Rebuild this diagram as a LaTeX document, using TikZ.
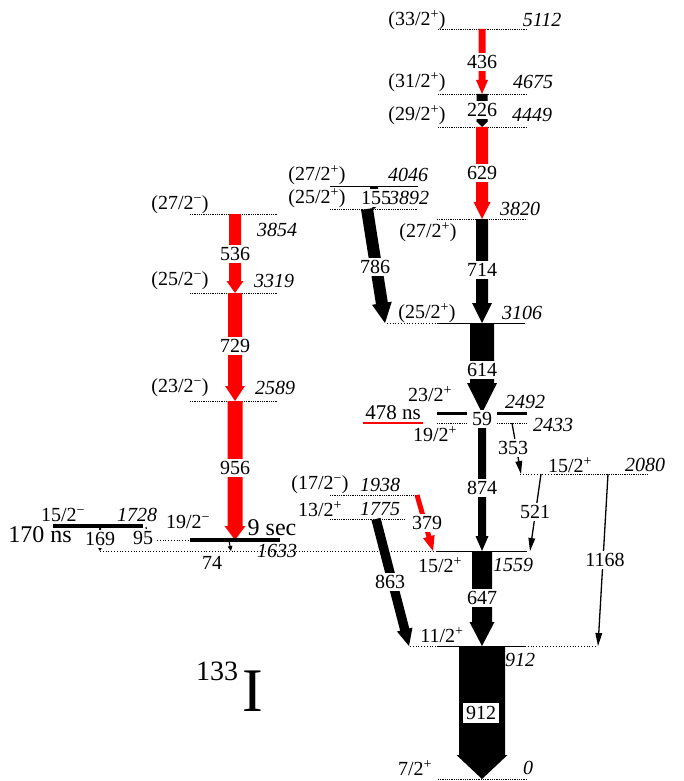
\documentclass[tikz,border=0pt]{standalone}
\usepackage{fontspec}
\setmainfont{Liberation Serif}
\usetikzlibrary{calc}

\definecolor{gred}{RGB}{255,0,0}

\tikzset{
  lvl/.style={line width=0.8pt, densely dotted},
  lvlsolid/.style={line width=0.8pt},
  lvlext/.style={line width=0.8pt, dotted},
  lvlbold/.style={line width=3.5pt},
  enlab/.style={font=\fontsize{20}{22}\selectfont\itshape},
  glab/.style={fill=white, inner sep=2pt},
  biglab/.style={font=\fontsize{24}{26}\selectfont},
}

% gamma arrow: [colour] {from}{to}{half width}{half head width}{head length}
\newcommand\gam[6][black]{%
  \path (#3) coordinate (gtip) ($(#3)!#6!(#2)$) coordinate (gbase);
  \fill[#1] ($(#2)!#4!90:(#3)$) -- ($(gbase)!#4!-90:(#2)$) -- ($(gbase)!#5!-90:(#2)$)
    -- (gtip) -- ($(gbase)!#5!90:(#2)$) -- ($(gbase)!#4!90:(#2)$)
    -- ($(#2)!#4!-90:(#3)$) -- cycle;
}
\newcommand\jpos[1]{#1\textsuperscript{+}}
\newcommand\jneg[1]{#1\textsuperscript{−}}

\begin{document}
\begin{tikzpicture}[x=1pt, y=-1pt, every node/.style={inner sep=0pt, font=\fontsize{20}{22}\selectfont}]
\useasboundingbox (0,0) rectangle (683,781);

% levels
\draw[lvl] (438,29) -- (527,29);
\draw[lvl] (438,94) -- (527,94);
\draw[lvl] (438,127) -- (527,127);
\draw[lvl] (437,219) -- (527,219);
\draw[lvlsolid] (330,186) -- (418,186);
\draw[lvl] (330,209) -- (418,209);
\draw[lvlext] (387,323) -- (437,323);
\draw[lvlsolid] (437,323) -- (525,323);
\draw[lvl] (437,423) -- (467,423) (497,423) -- (527,423);
\draw[gred, line width=2pt] (363,423) -- (423,423);
\draw[lvlext] (520,474) -- (557,474);
\draw[lvl] (557,474) -- (648,474);
\draw[lvl] (330,495) -- (417,495);
\draw[lvl] (330,519) -- (405,519);
\draw[lvlext] (100,551) -- (437,551);
\draw[lvlsolid] (437,551) -- (527,551);
\draw[lvlext] (410,646) -- (437,646) (525,646) -- (597,646);
\draw[lvlsolid] (437,646) -- (525,646);
\draw[lvl] (438,779) -- (527,779);
\draw[lvl] (190,214) -- (278,214);
\draw[lvl] (190,293) -- (278,293);
\draw[lvl] (190,401) -- (278,401);
\draw[lvlext] (157,540) -- (188,540);

% transition end points
\coordinate (a5112) at (482,29);
\coordinate (a4675) at (482,94);
\coordinate (a4449) at (482,127);
\coordinate (a3820) at (482,219);
\coordinate (a3106) at (482,323);
\coordinate (a2492) at (482,413);
\coordinate (a2433) at (482,423);
\coordinate (a1559) at (482,551);
\coordinate (a912)  at (482,646);
\coordinate (a0)    at (482,779);
\coordinate (b4046) at (374,186);
\coordinate (b3892) at (374,209);
\coordinate (c3892) at (367,209);
\coordinate (c3106) at (385,323);
\coordinate (d2433) at (512,423);
\coordinate (d2080) at (521,474);
\coordinate (e2080) at (541,474);
\coordinate (e1559) at (530,551);
\coordinate (f2080) at (608,474);
\coordinate (f912)  at (598,646);
\coordinate (h1938) at (417,495);
\coordinate (h1559) at (433,551);
\coordinate (k1775) at (376,519);
\coordinate (k912)  at (409,646);
\coordinate (m3854) at (235,214);
\coordinate (m3319) at (235,293);
\coordinate (m2589) at (235,401);
\coordinate (m1633) at (235,540);
\coordinate (n1633) at (229,541);
\coordinate (n1559) at (231,551);
\coordinate (p1728) at (100,527);
\coordinate (p1559) at (100,551);
\coordinate (q1728) at (146,527);
\coordinate (q1633) at (148,540);

% transitions
\gam[gred]{a5112}{a4675}{3.5pt}{6pt}{14pt}
\gam{a4675}{a4449}{5.5pt}{6pt}{6pt}
\gam[gred]{a4449}{a3820}{6pt}{8.5pt}{17pt}
\gam{a3820}{a3106}{6pt}{10pt}{20pt}
\gam{a3106}{a2492}{12pt}{15pt}{30pt}
\gam{a2433}{a1559}{4pt}{6.5pt}{15pt}
\gam{a1559}{a912}{10pt}{12.5pt}{24pt}
\gam{a912}{a0}{23pt}{25.5pt}{24pt}
\gam{b4046}{b3892}{4pt}{4.5pt}{4pt}
\gam{c3892}{c3106}{6pt}{10pt}{20pt}
\gam{d2433}{d2080}{0.65pt}{3.5pt}{13pt}
\gam{e2080}{e1559}{0.65pt}{3.5pt}{13pt}
\gam{f2080}{f912}{0.65pt}{3.5pt}{13pt}
\gam[gred]{h1938}{h1559}{2.5pt}{6pt}{15pt}
\gam{k1775}{k912}{4.7pt}{8pt}{17pt}
\gam[gred]{m3854}{m3319}{6pt}{8.5pt}{12pt}
\gam[gred]{m3319}{m2589}{7pt}{10pt}{15pt}
\gam[gred]{m2589}{m1633}{7.5pt}{10.5pt}{14pt}
\gam{n1633}{n1559}{0.5pt}{2.5pt}{5pt}
\gam{p1728}{p1559}{1pt}{2.5pt}{4pt}
\gam{q1728}{q1633}{0.6pt}{2.5pt}{5pt}

% isomer levels
\draw[lvlbold, line width=3pt] (437,413) -- (467,413) (497,413) -- (527,413);
\draw[lvlbold] (53,526) -- (143,526);
\draw[lvlbold] (190,540) -- (280,540);

% energies of the gammas
\begin{scope}[every node/.style={glab, font=\fontsize{20}{22}\selectfont}]
  \node (t436)  at (482,62)  {436};
  \node (t226)  at (482,110) {226};
  \node (t629)  at (482,173) {629};
  \node (t714)  at (482,270) {714};
  \node (t614)  at (482,370) {614};
  \node (t59)   at (482,419) {59};
  \node (t874)  at (482,488) {874};
  \node (t647)  at (482,598) {647};
  \node[inner sep=3pt] (t912) at (481,713) {912};
  \node (t155)  at (376,198) {155};
  \node (t786)  at (375,267) {786};
  \node (t353)  at (513,448) {353};
  \node (t521)  at (535,512) {521};
  \node (t1168) at (605,560) {1168};
  \node (t379)  at (427,523) {379};
  \node (t863)  at (390,582) {863};
  \node (t536)  at (235,254) {536};
  \node (t729)  at (235,346) {729};
  \node (t956)  at (235,468) {956};
  \node (t169)  at (100,539) {169};
  \node (t95)   at (143,538) {95};
  \node[fill=none] (t74) at (212,563) {74};
\end{scope}

% spins
\node (s5112) at (417,20)  {(\jpos{33/2})};
\node (s4675) at (417,82)  {(\jpos{31/2})};
\node (s4449) at (417,115) {(\jpos{29/2})};
\node (s4046) at (317,175) {(\jpos{27/2})};
\node (s3892) at (317,198) {(\jpos{25/2})};
\node (s3820) at (428,232) {(\jpos{27/2})};
\node (s3106) at (427,313) {(\jpos{25/2})};
\node (s2492) at (430,394) {\jpos{23/2}};
\node (s2433) at (435,434) {\jpos{19/2}};
\node (s2080) at (570,465) {\jpos{15/2}};
\node (s1938) at (320,485) {(\jneg{17/2})};
\node (s1775) at (320,509) {\jpos{13/2}};
\node (s1559) at (440,565) {\jpos{15/2}};
\node (s912)  at (442,635) {\jpos{11/2}};
\node (s0)    at (415,768) {\jpos{7/2}};
\node (s3854) at (180,205) {(\jneg{27/2})};
\node (s3319) at (180,281) {(\jneg{25/2})};
\node (s2589) at (180,388) {(\jneg{23/2})};
\node (s1728) at (63,515)  {\jneg{15/2}};
\node (s1633) at (188,522) {\jneg{19/2}};

% level energies
\begin{scope}[every node/.style={enlab}]
  \node (e5112) at (542,20)  {5112};
  \node (e4675) at (533,82)  {4675};
  \node (e4449) at (532,115) {4449};
  \node (e4046) at (408,175) {4046};
  \node (e3892) at (409,198) {3892};
  \node (e3820) at (520,209) {3820};
  \node (e3106) at (522,313) {3106};
  \node (e2492) at (525,402) {2492};
  \node (e2433) at (553,425) {2433};
  \node (e2080) at (645,465) {2080};
  \node (e1938) at (380,485) {1938};
  \node (e1775) at (380,509) {1775};
  \node (e1559) at (513,565) {1559};
  \node (e912)  at (520,660) {912};
  \node (e0)    at (528,768) {0};
  \node (e3854) at (277,230) {3854};
  \node (e3319) at (274,281) {3319};
  \node (e2589) at (275,388) {2589};
  \node (e1728) at (137,515) {1728};
  \node (e1633) at (277,551) {1633};
\end{scope}

% half-lives and nucleus
\node[font=\fontsize{21}{22}\selectfont] (i478) at (393,413) {478 ns};
\node[biglab] (i170) at (40,535)  {170 ns};
\node[biglab] (i9)   at (272,528) {9 sec};
\node[font=\fontsize{28}{28}\selectfont] (n133) at (217,671) {133};
\node[font=\fontsize{62}{62}\selectfont] (nI) at (253,691) {I};

\end{tikzpicture}
\end{document}
